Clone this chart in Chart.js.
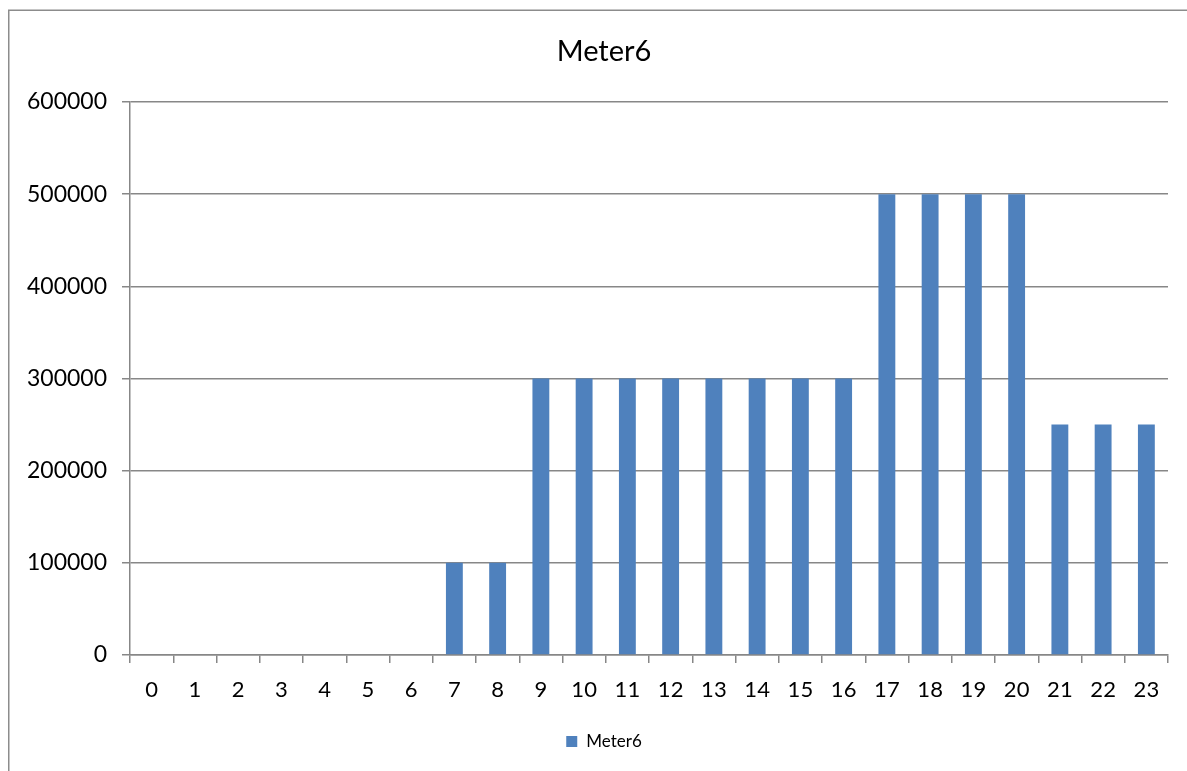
<!DOCTYPE html>
<html>
<head>
<meta charset="utf-8">
<script src="https://cdn.jsdelivr.net/npm/chart.js@4"></script>
<style>
  html, body { margin: 0; padding: 0; background: #fff; }
  #wrap { width: 1187px; height: 771px; }
</style>
</head>
<body>
<div id="wrap"><canvas id="c" width="1187" height="771"></canvas></div>
<script>
// Hourly readings for Meter6
const hours = ['0','1','2','3','4','5','6','7','8','9','10','11','12','13','14','15','16','17','18','19','20','21','22','23'];
const meter6 = [0,0,0,0,0,0,0,100000,100000,300000,300000,300000,300000,300000,300000,300000,300000,500000,500000,500000,500000,250000,250000,250000];
const yTicks = [0,100000,200000,300000,400000,500000,600000];
const chartTitle = 'Meter6';

const FONT = 'Lato, "Open Sans", sans-serif';
const GRID = '#878787';

// Outer frame of the chart object (top and left edges fall inside the canvas)
const framePlugin = {
  id: 'frame',
  beforeDraw(chart) {
    const ctx = chart.ctx;
    ctx.save();
    ctx.fillStyle = '#fff';
    ctx.fillRect(0, 0, chart.width, chart.height);
    ctx.strokeStyle = '#8c8c8c';
    ctx.lineWidth = 1.5;
    ctx.beginPath();
    ctx.moveTo(8.75, chart.height + 5);
    ctx.lineTo(8.75, 10.25);
    ctx.lineTo(chart.width + 5, 10.25);
    ctx.stroke();
    ctx.restore();
  }
};

// Title and legend centred on the whole chart object rather than the plot
const headerFooterPlugin = {
  id: 'headerFooter',
  afterDraw(chart) {
    const ctx = chart.ctx;
    const centreX = 604;
    ctx.save();
    ctx.fillStyle = '#000';
    ctx.textBaseline = 'middle';
    ctx.textAlign = 'center';
    ctx.font = '29px ' + FONT;
    ctx.fillText(chartTitle, centreX, 52);

    const ds = chart.data.datasets[0];
    ctx.font = '17px ' + FONT;
    const tw = ctx.measureText(ds.label).width;
    const box = 11, gap = 9;
    const startX = centreX - (box + gap + tw) / 2;
    ctx.fillStyle = ds.backgroundColor;
    ctx.fillRect(startX, 736, box, box);
    ctx.fillStyle = '#000';
    ctx.textAlign = 'left';
    ctx.fillText(ds.label, startX + box + gap, 742);
    ctx.restore();
  }
};

new Chart(document.getElementById('c'), {
  type: 'bar',
  data: {
    labels: hours,
    datasets: [{
      label: 'Meter6',
      data: meter6,
      backgroundColor: '#4F81BD',
      borderWidth: 0,
      categoryPercentage: 1,
      barPercentage: 0.39
    }]
  },
  options: {
    responsive: false,
    animation: false,
    devicePixelRatio: 1,
    layout: { padding: { left: 0, right: 19, top: 102, bottom: 46 } },
    plugins: {
      title: { display: false },
      legend: { display: false },
      tooltip: { enabled: false }
    },
    scales: {
      x: {
        offset: true,
        grid: {
          offset: true,
          drawOnChartArea: false,
          drawTicks: true,
          tickLength: 8,
          color: GRID,
          lineWidth: 1.5
        },
        border: { display: true, color: GRID, width: 1.5 },
        ticks: {
          color: '#000',
          font: { family: FONT, size: 22 },
          padding: 14,
          maxRotation: 0,
          autoSkip: false
        },
        afterFit(scale) { scale.height = 70; }
      },
      y: {
        min: 0,
        max: 600000,
        afterBuildTicks(scale) { scale.ticks = yTicks.map(v => ({ value: v })); },
        grid: {
          color: GRID,
          lineWidth: 1.5,
          tickLength: 8
        },
        border: { display: true, color: GRID, width: 1.5 },
        ticks: {
          color: '#000',
          font: { family: FONT, size: 23 },
          padding: 15,
          callback: v => String(v)
        },
        afterFit(scale) { scale.width = 130; }
      }
    }
  },
  plugins: [framePlugin, headerFooterPlugin]
});
</script>
</body>
</html>
